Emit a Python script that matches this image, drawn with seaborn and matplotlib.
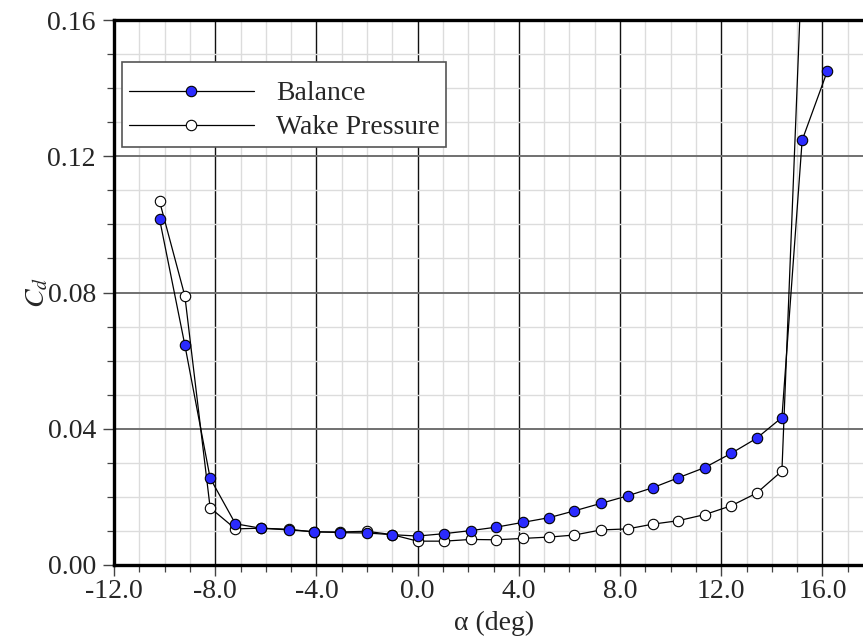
import matplotlib
matplotlib.use("Agg")
import matplotlib.pyplot as plt
import seaborn as sns
import numpy as np
import pandas as pd
from matplotlib.ticker import MultipleLocator, FormatStrFormatter
from matplotlib.lines import Line2D

# angle of attack (deg) and drag coefficient
alpha_bal = [-10.2, -9.2, -8.2, -7.2, -6.2, -5.1, -4.1, -3.05, -2.0, -1.0, 0.0,
             1.05, 2.1, 3.1, 4.15, 5.2, 6.2, 7.25, 8.3, 9.3, 10.3, 11.35, 12.4,
             13.4, 14.4, 15.2, 16.2]
cd_bal = [0.1016, 0.0646, 0.0255, 0.0121, 0.0108, 0.0103, 0.0098, 0.0095,
          0.0094, 0.0089, 0.0085, 0.0092, 0.0101, 0.0111, 0.0125, 0.0139,
          0.0159, 0.0181, 0.0203, 0.0227, 0.0256, 0.0286, 0.0328, 0.0372,
          0.0433, 0.1247, 0.1451]

alpha_wake = [-10.2, -9.2, -8.2, -7.2, -6.2, -5.1, -4.1, -3.05, -2.0, -1.0, 0.0,
              1.05, 2.1, 3.1, 4.15, 5.2, 6.2, 7.25, 8.3, 9.3, 10.3, 11.35, 12.4,
              13.4, 14.4, 15.2]
cd_wake = [0.1068, 0.0790, 0.0168, 0.0106, 0.0108, 0.0105, 0.0097, 0.0097,
           0.0099, 0.0089, 0.0070, 0.0070, 0.0075, 0.0074, 0.0078, 0.0082,
           0.0088, 0.0103, 0.0106, 0.0120, 0.0130, 0.0148, 0.0174, 0.0211,
           0.0276, 0.1780]

x_ticks = [-12.0, -8.0, -4.0, 0.0, 4.0, 8.0, 12.0, 16.0]
y_ticks = [0.00, 0.04, 0.08, 0.12, 0.16]

sns.set_style("white")
plt.rcParams["font.family"] = ["Liberation Serif", "DejaVu Serif"]
plt.rcParams["mathtext.fontset"] = "stix"
plt.rcParams["axes.unicode_minus"] = False

bal = pd.DataFrame({"alpha": alpha_bal, "cd": cd_bal})
wake = pd.DataFrame({"alpha": alpha_wake, "cd": cd_wake})

fig = plt.figure(figsize=(8.63, 6.36), dpi=100)
ax = fig.add_axes([114 / 863, 71 / 636, 759 / 863, 545 / 636])

sns.lineplot(data=wake, x="alpha", y="cd", ax=ax, color="black", lw=0.9,
             marker="o", markersize=7.5, markerfacecolor="white",
             markeredgecolor="black", markeredgewidth=0.8, zorder=3)
sns.lineplot(data=bal, x="alpha", y="cd", ax=ax, color="black", lw=0.9,
             marker="o", markersize=7.5, markerfacecolor="#2b2bff",
             markeredgecolor="black", markeredgewidth=0.8, zorder=4)

ax.set_xlim(-12, 18)
ax.set_ylim(0, 0.16)
ax.set_xticks(x_ticks)
ax.set_yticks(y_ticks)
ax.xaxis.set_major_formatter(FormatStrFormatter("%.1f"))
ax.yaxis.set_major_formatter(FormatStrFormatter("%.2f"))
ax.xaxis.set_minor_locator(MultipleLocator(1.0))
ax.yaxis.set_minor_locator(MultipleLocator(0.01))

ax.grid(which="minor", color="#dcdcdc", lw=1.0)
ax.grid(which="major", axis="x", color="#111111", lw=1.0)
ax.grid(which="major", axis="y", color="#707070", lw=1.4)
ax.set_axisbelow(True)

ax.tick_params(which="major", direction="out", length=8, width=1.0,
               color="#444444", labelsize=20, bottom=True, left=True)
ax.tick_params(axis="x", which="major", pad=2)
ax.tick_params(axis="y", which="major", pad=5)
ax.tick_params(which="minor", direction="out", length=5, width=0.9,
               color="#444444", bottom=True, left=True)

for side in ["left", "bottom", "top"]:
    ax.spines[side].set_linewidth(2.4)
    ax.spines[side].set_color("black")
ax.spines["right"].set_visible(False)

ax.set_xlabel("α (deg)", fontsize=20)
ax.xaxis.set_label_coords(380 / 759, -46 / 545)
ax.set_ylabel("$C_d$", fontsize=20)
ax.yaxis.set_label_coords(-64 / 759, 0.5)

handles = [
    Line2D([], [], color="black", lw=0.9, marker="o", markersize=7.5,
           markerfacecolor="#2b2bff", markeredgecolor="black", markeredgewidth=0.8),
    Line2D([], [], color="black", lw=0.9, marker="o", markersize=7.5,
           markerfacecolor="white", markeredgecolor="black", markeredgewidth=0.8),
]
# a tiny blank title gives the extra space above the first row
leg = ax.legend(handles, ["Balance", "Wake Pressure"], loc="upper left",
                bbox_to_anchor=(8 / 759, 1 - 42 / 545), fontsize=20,
                title=" ", title_fontsize=3,
                handlelength=4.5, handletextpad=0.8, borderpad=0.24,
                borderaxespad=0, labelspacing=0.3, fancybox=False,
                framealpha=1, edgecolor="#555555")
leg.get_frame().set_linewidth(1.2)

fig.savefig("out.png", dpi=100)
